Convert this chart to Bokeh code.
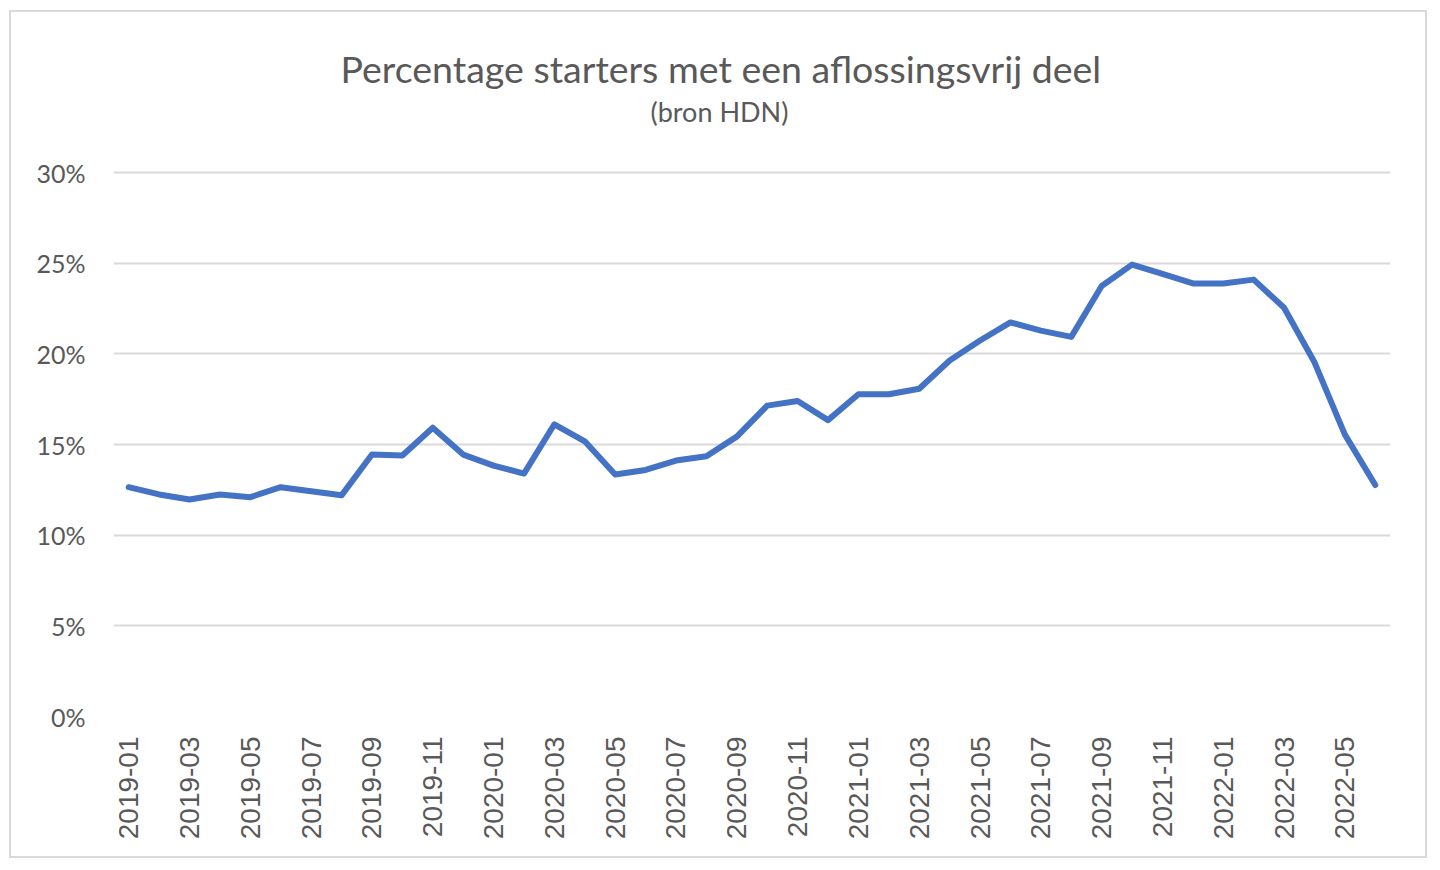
from bokeh.plotting import figure
from bokeh.models import Range1d, FixedTicker, Title
from bokeh.embed import file_html
from bokeh.resources import INLINE

months = ["2019-01","2019-02","2019-03","2019-04","2019-05","2019-06","2019-07","2019-08","2019-09","2019-10","2019-11","2019-12",
          "2020-01","2020-02","2020-03","2020-04","2020-05","2020-06","2020-07","2020-08","2020-09","2020-10","2020-11","2020-12",
          "2021-01","2021-02","2021-03","2021-04","2021-05","2021-06","2021-07","2021-08","2021-09","2021-10","2021-11","2021-12",
          "2022-01","2022-02","2022-03","2022-04","2022-05","2022-06"]
pct = [12.65, 12.25, 11.97, 12.25, 12.1, 12.65, 12.43, 12.2, 14.45, 14.4, 15.93, 14.45,
       13.84, 13.4, 16.12, 15.18, 13.35, 13.6, 14.12, 14.36, 15.44, 17.15, 17.4, 16.35,
       17.78, 17.78, 18.08, 19.64, 20.74, 21.74, 21.29, 20.94, 23.75, 24.93, 24.42, 23.89,
       23.89, 24.1, 22.55, 19.54, 15.55, 12.77]
y_ticks = [0, 5, 10, 15, 20, 25, 30]
y_tick_labels = ["0%", "5%", "10%", "15%", "20%", "25%", "30%"]
title_text = "Percentage starters met een aflossingsvrij deel"
subtitle_text = "(bron HDN)"

idx = list(range(len(months)))

W, H = 1418, 848
p = figure(width=W, height=H, output_backend="svg", toolbar_location=None,
           x_range=Range1d(-0.5, len(months) - 0.5), y_range=Range1d(0, 30.12),
           min_border_left=102, min_border_right=W - 1379, min_border_top=158,
           min_border_bottom=H - 704)
p.styles = {"border": "2px solid #d9d9d9", "margin-left": "9px", "margin-top": "10px"}
p.outline_line_color = None
p.background_fill_color = "white"
p.border_fill_color = "white"

p.line(idx, pct, line_color="#4472C4", line_width=6, line_join="round", line_cap="round")

p.xgrid.grid_line_color = None
p.ygrid.grid_line_color = "#d9d9d9"
p.ygrid.grid_line_width = 2
p.ygrid.ticker = FixedTicker(ticks=y_ticks)

p.yaxis.ticker = FixedTicker(ticks=y_ticks)
p.yaxis.major_label_overrides = dict(zip(y_ticks, y_tick_labels))
p.yaxis.axis_line_color = None
p.yaxis.major_tick_line_color = None
p.yaxis.minor_tick_line_color = None
p.yaxis.major_tick_out = 0
p.yaxis.major_label_text_font = "Lato"
p.yaxis.major_label_text_font_size = "25px"
p.yaxis.major_label_text_color = "#595959"
p.yaxis.major_label_standoff = 28

p.xaxis.ticker = FixedTicker(ticks=idx[::2])
p.xaxis.major_label_overrides = {i: months[i] for i in idx}
p.xaxis.major_label_orientation = 1.5708
p.xaxis.axis_line_color = None
p.xaxis.major_tick_line_color = None
p.xaxis.minor_tick_line_color = None
p.xaxis.major_tick_out = 0
p.xaxis.major_label_text_font = "Liberation Sans"
p.xaxis.major_label_text_font_size = "28px"
p.xaxis.major_label_text_color = "#595959"
p.xaxis.major_label_standoff = 20

p.add_layout(Title(text=subtitle_text, align="left", offset=650 - 113, standoff=86,
                   text_font="Lato", text_font_size="27px", text_font_style="normal",
                   text_color="#595959"), "above")
p.add_layout(Title(text=title_text, align="left", offset=340 - 113, standoff=-82,
                   text_font="Lato", text_font_size="37.5px", text_font_style="normal",
                   text_color="#595959"), "above")

open("out.html", "w").write(file_html(p, INLINE))
